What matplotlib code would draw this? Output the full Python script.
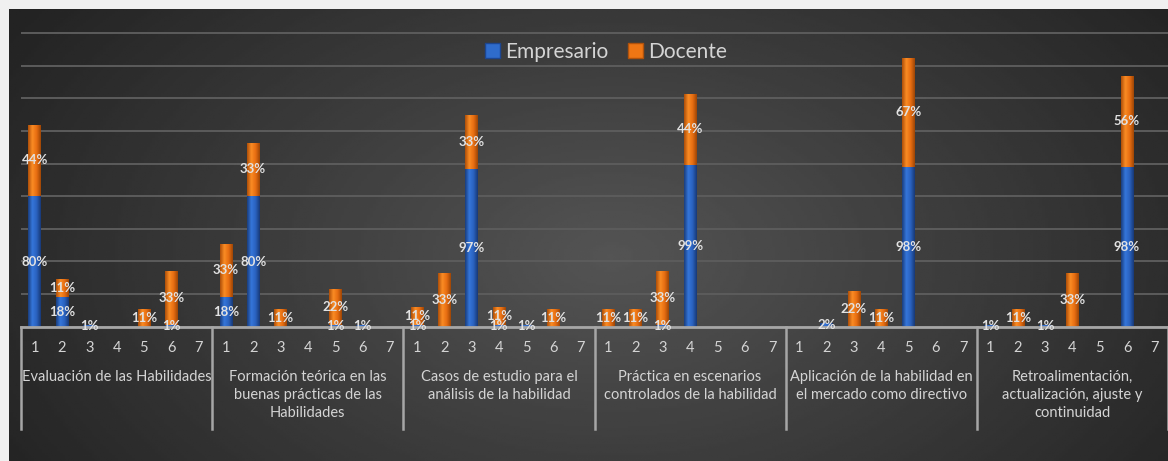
import numpy as np
import matplotlib.pyplot as plt
import matplotlib.transforms as mtransforms
from matplotlib.colors import LinearSegmentedColormap
from matplotlib.patches import Patch

# data (percentages)
groups = [
    "Evaluación de las Habilidades",
    "Formación teórica en las\nbuenas prácticas de las\nHabilidades",
    "Casos de estudio para el\nanálisis de la habilidad",
    "Práctica en escenarios\ncontrolados de la habilidad",
    "Aplicación de la habilidad en\nel mercado como directivo",
    "Retroalimentación,\nactualización, ajuste y\ncontinuidad",
]
categories = ["1", "2", "3", "4", "5", "6", "7"]
empresario = [
    [80, 18, 1, 0, 0, 1, 0],
    [18, 80, 0, 0, 1, 1, 0],
    [1, 0, 97, 1, 1, 0, 0],
    [0, 0, 1, 99, 0, 0, 0],
    [0, 2, 0, 0, 98, 0, 0],
    [1, 0, 1, 0, 0, 98, 0],
]
docente = [
    [44, 11, 0, 0, 11, 33, 0],
    [33, 33, 11, 0, 22, 0, 0],
    [11, 33, 33, 11, 0, 11, 0],
    [11, 11, 33, 44, 0, 0, 0],
    [0, 0, 22, 11, 67, 0, 0],
    [0, 11, 0, 33, 0, 56, 0],
]

plt.rcParams['font.family'] = ['Lato', 'DejaVu Sans']

W, H = 1168, 461
fig = plt.figure(figsize=(W / 100, H / 100), dpi=100, facecolor='#f0f0f0')

# dark radial background of the chart area
bg = fig.add_axes([9 / W, 0, 1 - 9 / W, 1 - 9 / H])
yy, xx = np.mgrid[0:1:200j, 0:1:400j]
r = np.sqrt(((xx - 0.52) / 0.7) ** 2 + ((yy - 0.55) / 1.1) ** 2)
shade = np.clip(0.33 - 0.22 * r, 0.14, 0.33)
bg.imshow(shade, cmap='gray', vmin=0, vmax=1, aspect='auto')
bg.axis('off')

base_y, top_y = 326.7, 33.3
ymax = 181
h_px = (base_y - top_y) * ymax / 180
ax = fig.add_axes([21 / W, (H - base_y) / H, (W - 21) / W, h_px / H])
ax.patch.set_alpha(0)

emp = np.concatenate(empresario)
doc = np.concatenate(docente)
x = np.arange(len(emp))

blue_cm = LinearSegmentedColormap.from_list('b', ['#1a3f80', '#3576da', '#2a62bf', '#183a78'])
orange_cm = LinearSegmentedColormap.from_list('o', ['#b0500a', '#fa8c24', '#e86e12', '#a04706'])
grad = np.linspace(0, 1, 32).reshape(1, -1)

bars_e = ax.bar(x, emp, width=0.46, color='#2f6ccc', linewidth=0, zorder=3)
bars_d = ax.bar(x, doc, width=0.46, bottom=emp, color='#ef7614', linewidth=0, zorder=3)
for bars, cm in [(bars_e, blue_cm), (bars_d, orange_cm)]:
    for rect in bars:
        if rect.get_height() <= 0:
            continue
        x0, y0 = rect.get_x(), rect.get_y()
        im = ax.imshow(grad, cmap=cm, aspect='auto', zorder=3.5,
                       extent=[x0, x0 + rect.get_width(), y0, y0 + rect.get_height()])
        im.set_clip_path(rect)

for xi, e, d in zip(x, emp, doc):
    if e > 0:
        ax.text(xi, e / 2, f"{e}%", ha='center', va='center', fontsize=9.5,
                fontweight='bold', color='#e2e2e2', zorder=5)
    if d > 0:
        ax.text(xi, e + d / 2, f"{d}%", ha='center', va='center', fontsize=9.5,
                fontweight='bold', color='#e2e2e2', zorder=5)

ax.set_xlim(-0.5, len(emp) - 0.5)
ax.set_ylim(0, ymax)
ax.set_yticks(np.arange(0, 181, 20))
ax.yaxis.grid(True, color='#5c5c5c', linewidth=1.4, zorder=0)
ax.set_yticklabels([])
ax.tick_params(axis='y', length=0)
ax.set_xticks([])
for s in ['top', 'right', 'left']:
    ax.spines[s].set_visible(False)
ax.spines['bottom'].set_color('#a6a6a6')
ax.spines['bottom'].set_linewidth(2)
ax.spines['bottom'].set_zorder(4)

# category labels and group labels below the axis
tr = mtransforms.blended_transform_factory(ax.transData, fig.transFigure)
for xi in x:
    ax.text(xi, (H - 348) / H, categories[xi % 7], transform=tr, ha='center',
            va='center', fontsize=10.5, color='#d4d4d4')
for g, name in enumerate(groups):
    xc = g * 7 + 3
    ax.text(xc, (H - 370) / H, name, transform=tr, ha='center', va='top',
            fontsize=10.5, color='#d4d4d4', linespacing=1.35)
for k in range(len(groups) + 1):
    xv = k * 7 - 0.5
    ax.plot([xv, xv], [(H - base_y) / H, (H - 429) / H], transform=tr,
            color='#a6a6a6', linewidth=1.8, clip_on=False)

handles = [Patch(facecolor='#2f6ccc', edgecolor='#1d4690', label='Empresario'),
           Patch(facecolor='#ef7614', edgecolor='#b0520c', label='Docente')]
fig.legend(handles=handles, loc='center', bbox_to_anchor=(606 / W, (H - 52) / H),
           ncol=2, frameon=False, fontsize=15, labelcolor='#d4d4d4',
           handlelength=0.75, handleheight=0.75, handletextpad=0.25, columnspacing=0.9)

fig.savefig('out.png', dpi=100, facecolor=fig.get_facecolor())
